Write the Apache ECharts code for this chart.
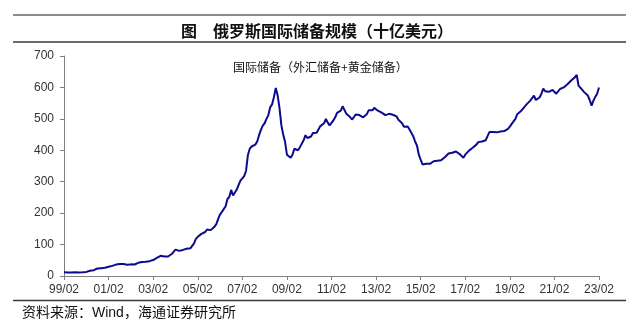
<!DOCTYPE html>
<html>
<head>
<meta charset="utf-8">
<script src="https://cdn.jsdelivr.net/npm/echarts@6/dist/echarts.min.js"></script>
<style>
  html, body { margin: 0; padding: 0; background: #fff; }
  #chart { width: 640px; height: 326px; }
</style>
</head>
<body>
<div id="chart"></div>
<script>
// Russian international reserves (FX + gold), billion USD, monthly from 1999/02 to 2023/02
const reserves1999_2002 = [
  11.9, 11.4, 10.9, 10.8, 11.4, 12.1, 11.7, 11.3, 10.8, 11.0, 11.6,
  12.5, 13.0, 14.9, 16.5, 17.7, 18.6, 20.9, 23.9, 24.6, 25.0, 25.8, 26.0,
  28.0, 29.3, 30.1, 32.3, 34.6, 36.3, 38.6, 38.1, 37.7, 38.3, 37.7, 36.0,
  36.6, 37.0, 36.5, 36.7, 38.8, 41.9, 43.0, 44.4, 44.6, 45.2, 46.9, 47.2
];
const reserves2003_2006 = [
  47.8, 50.8, 53.4, 57.8, 62.3, 64.4, 63.0, 62.0, 61.5, 62.0, 64.0, 70.0,
  76.9, 84.0, 83.0, 80.0, 81.0, 83.0, 85.5, 86.5, 87.0, 88.0, 90.0, 104.0,
  118.0, 124.6, 127.0, 134.0, 137.0, 140.0, 148.0, 150.0, 146.0, 152.0, 157.0, 165.0,
  182.0, 196.0, 204.0, 207.0, 222.0, 245.0, 252.0, 274.0, 256.0, 262.0, 275.0, 290.0
];
const reserves2007_2010 = [
  303.7, 309.0, 318.0, 335.0, 385.0, 405.0, 412.0, 416.0, 418.0, 428.0, 448.0, 465.0,
  478.8, 486.0, 500.0, 512.0, 537.0, 546.0, 569.0, 598.0, 575.0, 535.0, 480.0, 450.0,
  427.0, 386.0, 380.0, 376.0, 386.0, 405.0, 410.0, 400.0, 410.0, 415.0, 432.0, 448.0,
  439.0, 437.0, 444.0, 455.0, 461.0, 456.0, 462.0, 477.0, 479.0, 486.0, 500.0, 488.0
];
const reserves2011_2014 = [
  479.0, 484.0, 495.0, 505.0, 519.0, 524.0, 526.0, 540.0, 542.0, 516.0, 518.0, 506.0,
  498.0, 505.0, 514.0, 518.0, 512.0, 510.0, 505.0, 510.0, 515.0, 527.0, 524.0, 527.0,
  535.0, 529.0, 526.0, 521.0, 520.0, 514.0, 512.0, 510.0, 516.0, 521.0, 513.0, 512.0,
  508.0, 497.0, 492.0, 486.0, 475.0, 472.0, 476.0, 466.0, 462.0, 445.0, 428.0, 415.0
];
const reserves2015_2018 = [
  386.0, 370.0, 355.0, 352.0, 357.0, 360.0, 357.0, 358.0, 365.0, 370.0, 367.0, 362.0,
  368.0, 372.0, 378.0, 383.0, 390.0, 389.0, 392.0, 397.0, 396.0, 394.0, 388.0, 384.0,
  376.0, 386.0, 392.0, 399.0, 402.0, 408.0, 413.0, 418.0, 426.0, 426.0, 428.0, 431.0,
  432.0, 445.0, 458.0, 460.0, 458.0, 459.0, 457.0, 458.0, 460.0, 458.0, 461.0, 462.0
];
const reserves2019_2023 = [
  468.0, 475.0, 484.0, 490.0, 500.0, 515.0, 521.0, 525.0, 532.0, 538.0, 546.0, 550.0,
  558.0, 564.0, 574.0, 560.0, 563.0, 568.0, 580.0, 596.0, 588.0, 584.0, 586.0, 590.0,
  592.0, 588.0, 580.0, 583.0, 595.0, 601.0, 600.0, 606.0, 610.0, 615.0, 622.0, 625.0,
  632.0, 640.0, 606.0, 605.0, 592.0, 585.0, 580.0, 574.0, 560.0, 542.0, 558.0, 570.0,
  580.0, 600.0
];
const reserves = [].concat(reserves1999_2002, reserves2003_2006, reserves2007_2010,
  reserves2011_2014, reserves2015_2018, reserves2019_2023);

// Month categories "YY/MM", starting at 1999/02
const startYear = 1999, startMonth = 2;
const months = reserves.map((_, i) => {
  const total = (startMonth - 1) + i;
  const y = (startYear + Math.floor(total / 12)) % 100;
  const m = total % 12 + 1;
  return String(y).padStart(2, '0') + '/' + String(m).padStart(2, '0');
});

const yTicks = { min: 0, max: 700, interval: 100 };
const seriesName = '国际储备（外汇储备+黄金储备）';
const chartTitle = '图\u3000俄罗斯国际储备规模（十亿美元）';
const sourceNote = '资料来源：Wind，海通证券研究所';

const latinCjk = '"Liberation Sans", Arial, "Noto Sans CJK SC", sans-serif';

const chart = echarts.init(document.getElementById('chart'), null, { renderer: 'canvas' });
chart.setOption({
  animation: false,
  backgroundColor: '#fff',
  grid: { left: 64, right: 41, top: 56, height: 220 },
  legend: {
    data: [{ name: seriesName, icon: 'none' }],
    left: 223, top: 55, itemWidth: 0, itemHeight: 14, itemGap: 0,
    selectedMode: false,
    textStyle: { fontFamily: '"Noto Sans CJK SC", sans-serif', fontSize: 12, color: '#111' }
  },
  xAxis: {
    type: 'category',
    data: months,
    boundaryGap: false,
    axisLine: { lineStyle: { color: '#808080', width: 1 } },
    axisTick: { interval: 23, length: 4, lineStyle: { color: '#808080' } },
    axisLabel: {
      interval: 23, margin: 8, color: '#333',
      fontFamily: latinCjk, fontSize: 12
    },
    splitLine: { show: false }
  },
  yAxis: {
    type: 'value',
    min: yTicks.min, max: yTicks.max, interval: yTicks.interval,
    axisLine: { show: true, lineStyle: { color: '#808080', width: 1 } },
    axisTick: { show: true, length: 4, lineStyle: { color: '#808080' } },
    axisLabel: { margin: 10, color: '#333', fontFamily: latinCjk, fontSize: 12 },
    splitLine: { show: false }
  },
  series: [{
    name: seriesName,
    type: 'line',
    data: reserves,
    symbol: 'none',
    smooth: false,
    lineStyle: { color: '#0b0b8c', width: 2 },
    itemStyle: { color: '#0b0b8c' }
  }],
  graphic: [
    { type: 'line', shape: { x1: 13, y1: 15, x2: 626, y2: 15 }, style: { stroke: '#8c8c8c', lineWidth: 2 } },
    { type: 'line', shape: { x1: 13, y1: 42, x2: 626, y2: 42 }, style: { stroke: '#3a3a3a', lineWidth: 1.5 } },
    { type: 'line', shape: { x1: 13, y1: 300.5, x2: 626, y2: 300.5 }, style: { stroke: '#3a3a3a', lineWidth: 1.5 } },
    {
      type: 'text', x: 317, y: 31,
      style: {
        text: chartTitle, align: 'center', verticalAlign: 'middle',
        font: 'bold 16px "Noto Sans CJK SC", sans-serif', fill: '#111'
      }
    },
    {
      type: 'text', x: 22, y: 313,
      style: {
        text: sourceNote, align: 'left', verticalAlign: 'middle',
        font: '14px ' + latinCjk, fill: '#111'
      }
    }
  ]
});
</script>
</body>
</html>
